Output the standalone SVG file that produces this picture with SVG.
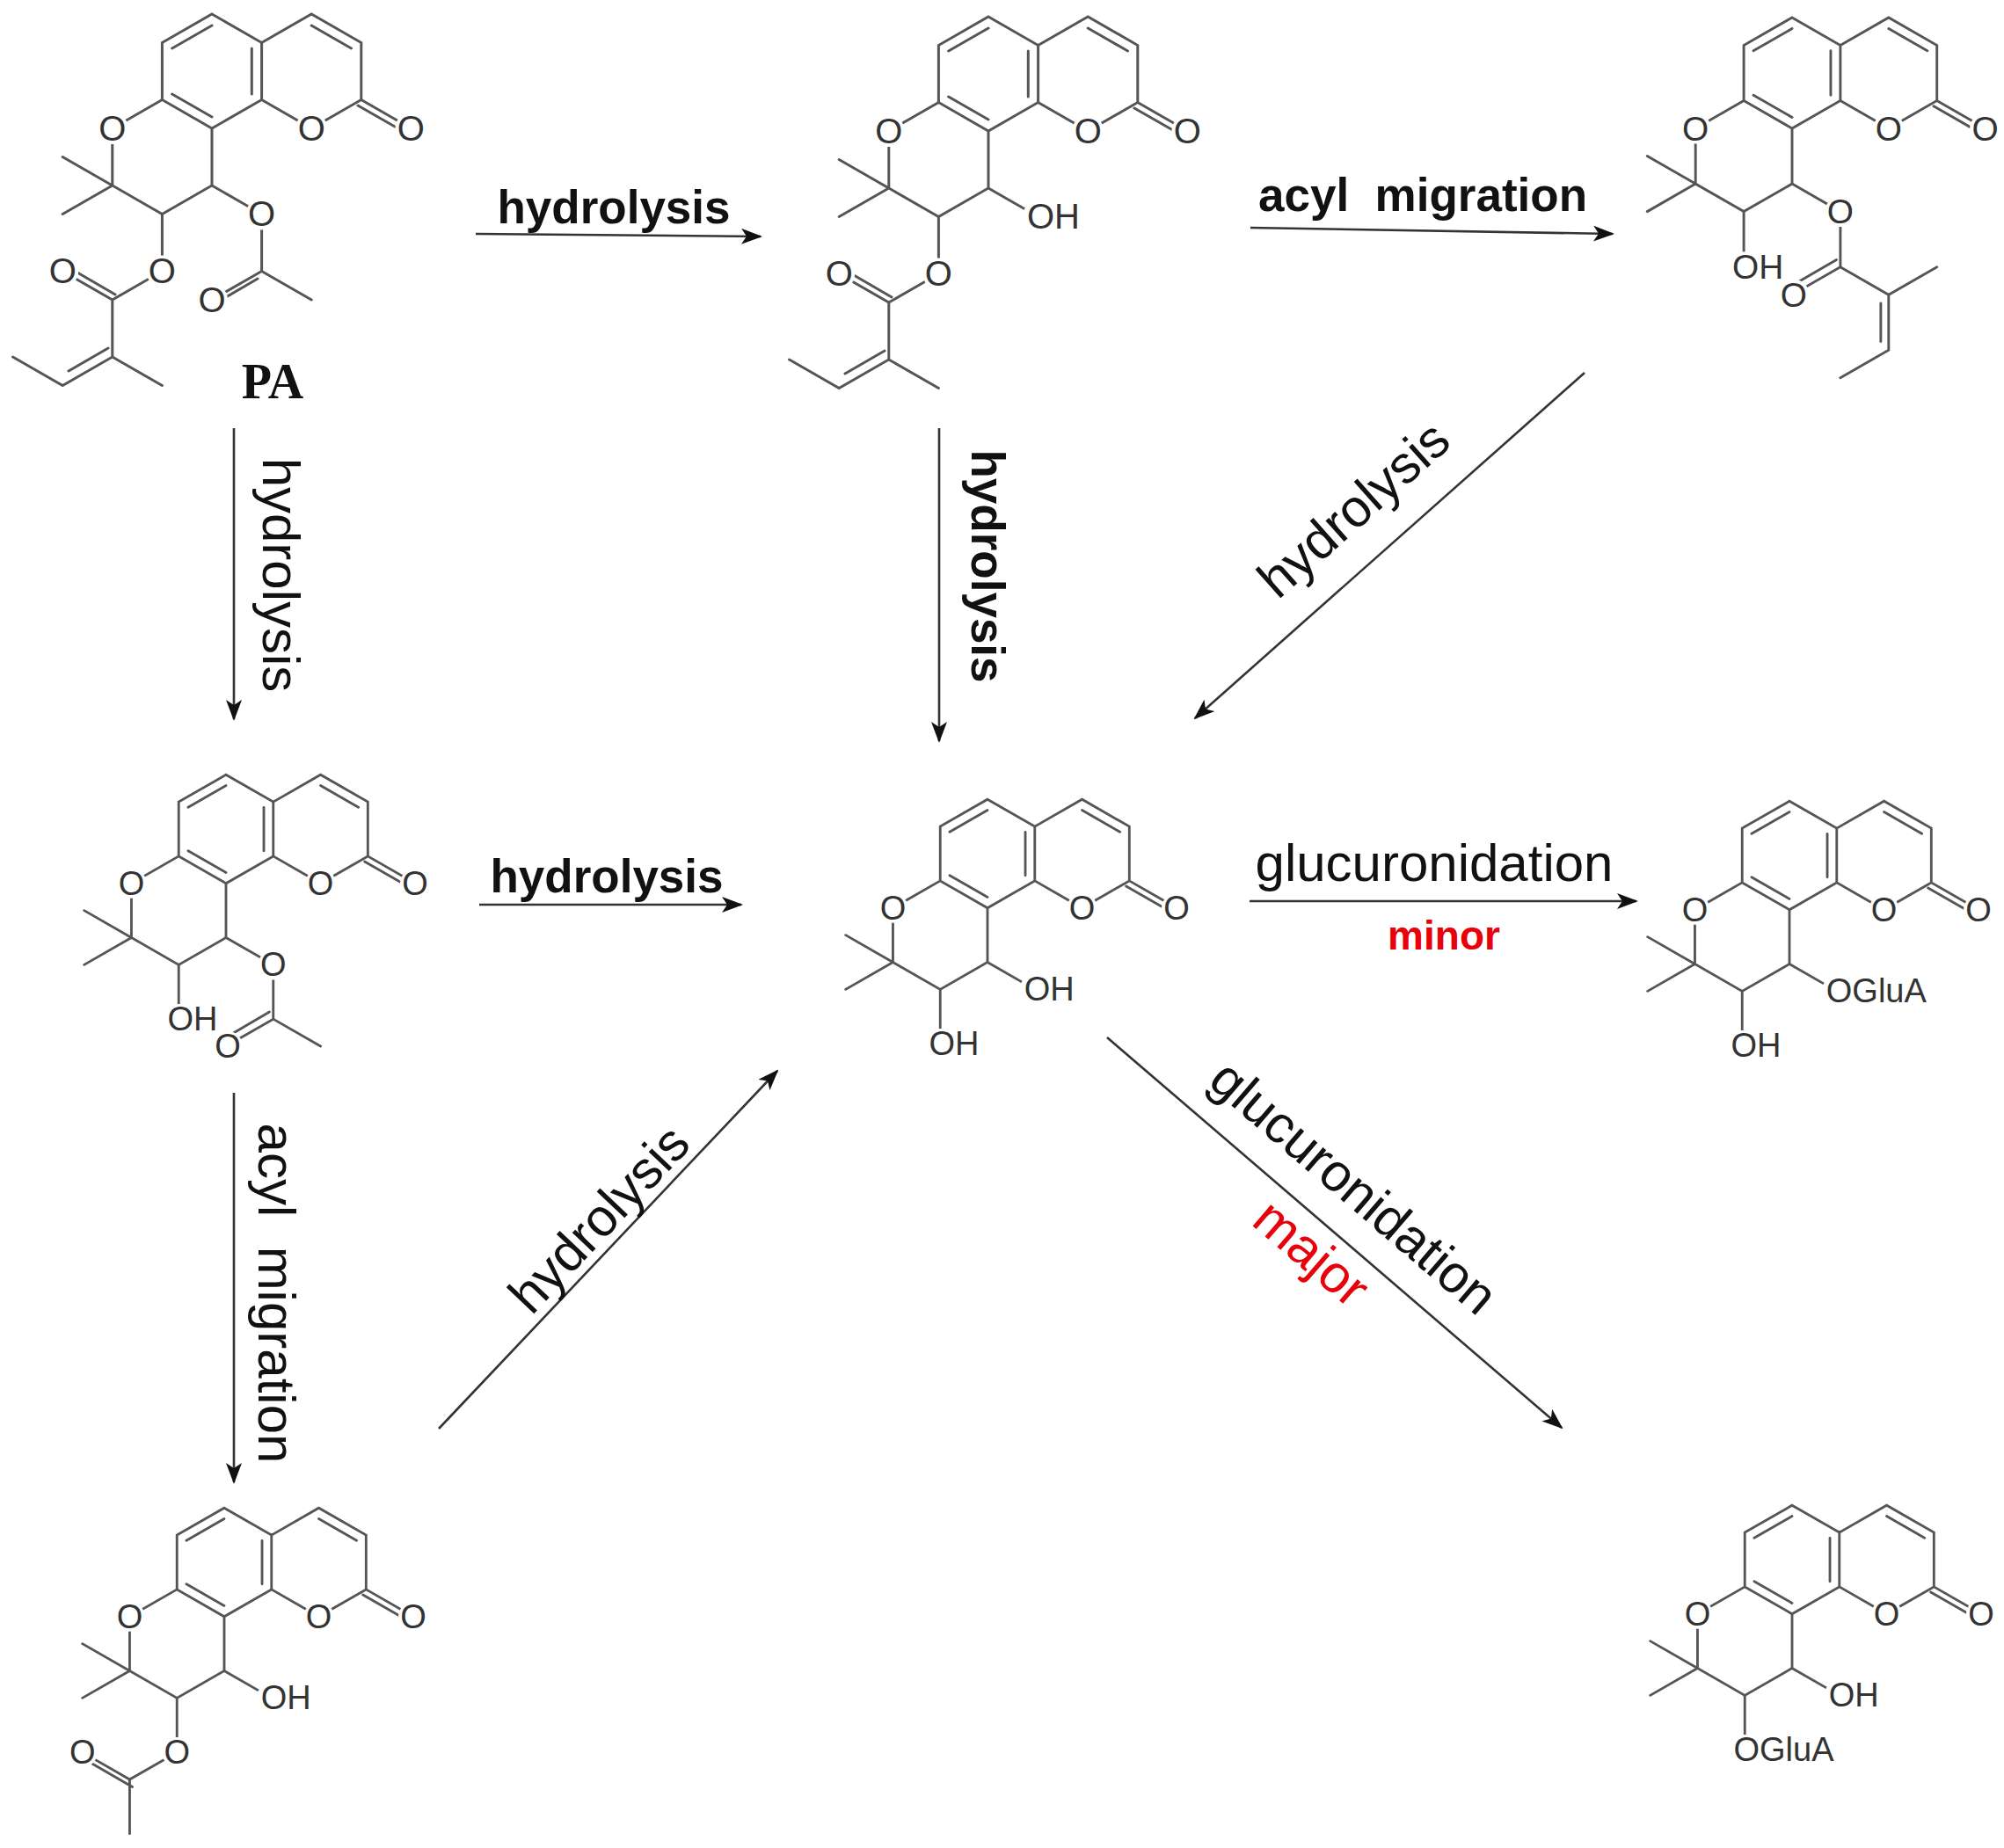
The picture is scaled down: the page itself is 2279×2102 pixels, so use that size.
<svg xmlns="http://www.w3.org/2000/svg" width="2279" height="2102" viewBox="0 0 2279 2102">
<style>
.b{stroke:#555;stroke-width:3;fill:none;stroke-linecap:round}
.m{fill:#fff}
.at{font-family:"Liberation Sans",Arial,sans-serif;font-size:40px;fill:#333}
.am{text-anchor:middle}
.ar{stroke:#333;stroke-width:2.6;fill:none;marker-end:url(#ah)}
.lb{font-family:"Liberation Sans",Arial,sans-serif;fill:#111;text-anchor:middle}
.bd{font-weight:bold;font-size:53px}
.rg{font-size:60px}
.red{fill:#e8000b}
</style>
<defs>
<marker id="ah" viewBox="0 0 24 18" refX="22" refY="9" markerWidth="24" markerHeight="18" markerUnits="userSpaceOnUse" orient="auto"><path d="M0,0 L24,9 L0,18 L6,9 z" fill="#111"/></marker>
<g id="core">
<path class="b" d="M0,-65 L56.6,-32.5 L56.6,32.5 L0,65 L-56.6,32.5 L-56.6,-32.5 Z M-45.3,-26 L0,-52 M45.3,-26 L45.3,26 M-45.3,26 L0,52 M56.6,-32.5 L113.2,-65 L169.8,-32.5 L169.8,32.5 L113.2,65 L56.6,32.5 M113.2,-52 L158.5,-26 M169.8,32.5 L226.4,65 M166,39 L222,71 M-56.6,32.5 L-113.2,65 L-113.2,130 L-56.6,162.5 L0,130 L0,65 M-113.2,130 L-169.8,97.5 M-113.2,130 L-169.8,162.5"/>
<circle class="m" cx="113.2" cy="65" r="18"/><circle class="m" cx="226.4" cy="65" r="18"/><circle class="m" cx="-113.2" cy="65" r="18"/>
<text class="at am" x="113.2" y="79">O</text>
<text class="at am" x="226.4" y="79">O</text>
<text class="at am" x="-113.2" y="79">O</text>
</g>
<circle id="k" class="m" r="18"/>
</defs>
<rect width="2279" height="2102" fill="#fff"/>

<g id="m1" transform="translate(241,81)">
<use href="#core"/>
<path class="b" d="M0,130 L56.6,162.5 L56.6,227.5 L0,260 M52,236 L4,264 M56.6,227.5 L113.2,260 M-56.6,162.5 L-56.6,227.5 L-113.2,260 L-169.8,227.5 M-110,254 L-165,222 M-113.2,260 L-113.2,325 L-169.8,357.5 L-226.4,325 M-118,315 L-163,341 M-113.2,325 L-56.6,357.5"/>
<use href="#k" x="56.6" y="162.5"/><use href="#k" x="0" y="260"/><use href="#k" x="-56.6" y="227.5"/><use href="#k" x="-169.8" y="227.5"/>
<text class="at am" x="56.6" y="176">O</text>
<text class="at am" x="0" y="274">O</text>
<text class="at am" x="-56.6" y="241">O</text>
<text class="at am" x="-169.8" y="241">O</text>
<text x="69" y="372" style="font-family:'Liberation Serif',serif;font-weight:bold;font-size:56px;fill:#111;text-anchor:middle">PA</text>
</g>

<g id="m2" transform="translate(1124,84)">
<use href="#core"/>
<path class="b" d="M0,130 L56.6,162.5 M-56.6,162.5 L-56.6,227.5 L-113.2,260 L-169.8,227.5 M-110,254 L-165,222 M-113.2,260 L-113.2,325 L-169.8,357.5 L-226.4,325 M-118,315 L-163,341 M-113.2,325 L-56.6,357.5"/>
<use href="#k" x="56.6" y="162.5"/><use href="#k" x="-56.6" y="227.5"/><use href="#k" x="-169.8" y="227.5"/>
<text class="at" x="44" y="176">OH</text>
<text class="at am" x="-56.6" y="241">O</text>
<text class="at am" x="-169.8" y="241">O</text>
</g>

<g id="m3" transform="translate(2038,83) scale(0.97)">
<use href="#core"/>
<path class="b" d="M0,130 L56.6,162.5 L56.6,227.5 L0,260 M52,219 L4,247 M56.6,227.5 L113.2,260 L169.8,227.5 M113.2,260 L113.2,325 L56.6,357.5 M104,270 L104,315 M-56.6,162.5 L-56.6,227.5"/>
<use href="#k" x="56.6" y="162.5"/><use href="#k" x="-56.6" y="227.5"/><use href="#k" x="2" y="260"/>
<text class="at am" x="56.6" y="176">O</text>
<text class="at" x="-70" y="241">OH</text>
<text class="at am" x="2" y="274">O</text>
</g>

<g id="m4" transform="translate(257,943) scale(0.95)">
<use href="#core"/>
<path class="b" d="M0,130 L56.6,162.5 L56.6,227.5 L0,260 M52,219 L4,247 M56.6,227.5 L113.2,260 M-56.6,162.5 L-56.6,227.5"/>
<use href="#k" x="56.6" y="162.5"/><use href="#k" x="-56.6" y="227.5"/><use href="#k" x="2" y="260"/>
<text class="at am" x="56.6" y="176">O</text>
<text class="at" x="-70" y="241">OH</text>
<text class="at am" x="2" y="274">O</text>
</g>

<g id="m5" transform="translate(1123,971) scale(0.95)">
<use href="#core"/>
<path class="b" d="M0,130 L56.6,162.5 M-56.6,162.5 L-56.6,227.5"/>
<use href="#k" x="56.6" y="162.5"/><use href="#k" x="-56.6" y="227.5"/>
<text class="at" x="44" y="176">OH</text>
<text class="at" x="-70" y="241">OH</text>
</g>

<g id="m6" transform="translate(2035,973) scale(0.95)">
<use href="#core"/>
<path class="b" d="M0,130 L56.6,162.5 M-56.6,162.5 L-56.6,227.5"/>
<use href="#k" x="56.6" y="162.5"/><use href="#k" x="-56.6" y="227.5"/>
<text class="at" x="44" y="176">OGluA</text>
<text class="at" x="-70" y="241">OH</text>
</g>

<g id="m7" transform="translate(255,1777) scale(0.95)">
<use href="#core"/>
<path class="b" d="M0,130 L56.6,162.5 M-56.6,162.5 L-56.6,227.5 L-113.2,260 L-169.8,227.5 M-110,269 L-165,237 M-113.2,260 L-113.2,325"/>
<use href="#k" x="56.6" y="162.5"/><use href="#k" x="-56.6" y="227.5"/><use href="#k" x="-169.8" y="227.5"/>
<text class="at" x="44" y="176">OH</text>
<text class="at am" x="-56.6" y="241">O</text>
<text class="at am" x="-169.8" y="241">O</text>
</g>

<g id="m8" transform="translate(2038,1774) scale(0.95)">
<use href="#core"/>
<path class="b" d="M0,130 L56.6,162.5 M-56.6,162.5 L-56.6,227.5"/>
<use href="#k" x="56.6" y="162.5"/><use href="#k" x="-56.6" y="227.5"/>
<text class="at" x="44" y="176">OH</text>
<text class="at" x="-70" y="241">OGluA</text>
</g>

<g id="connectors">
<line class="ar" x1="541" y1="266" x2="865" y2="269"/>
<line class="ar" x1="1422" y1="259" x2="1834" y2="266"/>
<line class="ar" x1="266" y1="487" x2="266" y2="818"/>
<line class="ar" x1="1068" y1="487" x2="1068" y2="843"/>
<line class="ar" x1="1802" y1="424" x2="1359" y2="817"/>
<line class="ar" x1="545" y1="1029" x2="843" y2="1029"/>
<line class="ar" x1="1421" y1="1025" x2="1861" y2="1025"/>
<line class="ar" x1="266" y1="1243" x2="266" y2="1686"/>
<line class="ar" x1="499" y1="1625" x2="884" y2="1218"/>
<line class="ar" x1="1259" y1="1180" x2="1776" y2="1624"/>
<text class="lb bd" x="698" y="254">hydrolysis</text>
<text class="lb bd" x="1618" y="240" xml:space="preserve">acyl  migration</text>
<text class="lb rg" transform="translate(317,654) rotate(90)" dy="0.3em">hydrolysis</text>
<text class="lb bd" transform="translate(1121,644) rotate(90)" dy="0.3em">hydrolysis</text>
<text class="lb rg" transform="translate(1541,581) rotate(-41.6)" dy="0.3em">hydrolysis</text>
<text class="lb bd" x="690" y="1015">hydrolysis</text>
<text class="lb rg" x="1631" y="1002">glucuronidation</text>
<text class="lb bd red" x="1642" y="1080" style="font-size:46px">minor</text>
<text class="lb rg" transform="translate(312,1471) rotate(90)" dy="0.3em" xml:space="preserve">acyl  migration</text>
<text class="lb rg" transform="translate(683,1388) rotate(-46.6)" dy="0.3em">hydrolysis</text>
<text class="lb rg" transform="translate(1538,1352) rotate(40.7)" dy="0.3em">glucuronidation</text>
<text class="lb rg red" transform="translate(1490,1427) rotate(40.7)" dy="0.3em">major</text>
</g>
</svg>
